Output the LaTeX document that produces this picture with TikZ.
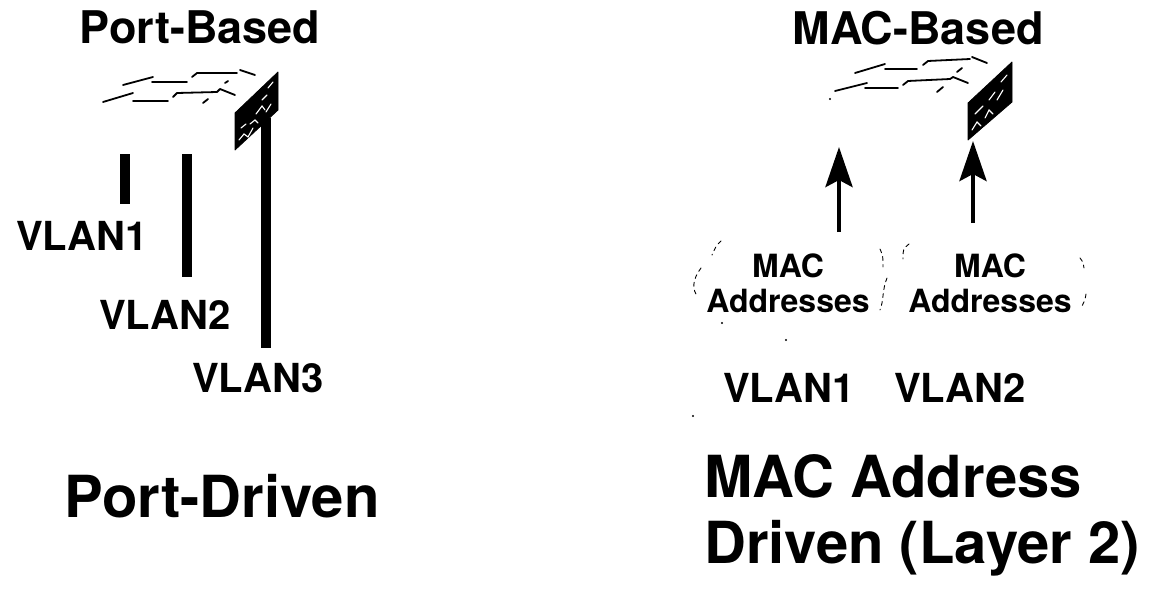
\documentclass[tikz,border=0pt]{standalone}
\usepackage{fontspec}
\setmainfont{TeX Gyre Heros}
\usetikzlibrary{arrows.meta}
\begin{document}
\begin{tikzpicture}[x=1pt,y=-1pt,
  head/.style={font=\fontsize{45}{48}\selectfont\bfseries, inner sep=0pt, anchor=base},
  vlanlabel/.style={font=\fontsize{40}{44}\selectfont\bfseries, inner sep=0pt, anchor=base},
  maclabel/.style={font=\fontsize{32}{35}\selectfont\bfseries, inner sep=0pt, anchor=base, align=center},
  bigtitle/.style={font=\fontsize{58}{66}\selectfont\bfseries, inner sep=0pt, anchor=base west, align=left},
  edge/.style={line width=1.8pt, line cap=round, line join=round},
  panel/.style={fill=black, draw=black, line width=0.8pt, line join=round},
  speck/.style={white, line width=1.1pt, line cap=round},
  vbar/.style={line width=10pt},
  uparrow/.style={line width=4.5pt, -{Stealth[length=40pt, width=27pt, inset=7pt]}},
  cloud/.style={line width=0.9pt, dash pattern=on 4pt off 4pt, line cap=round},
  fleck/.style={fill=black, inner sep=0pt, minimum size=2.4pt, circle}
]
\useasboundingbox (0,0) rectangle (1159,597);

% ---------- Port-based switch ----------
\node[head] (pbhead) at (200,43) {Port-Based};

\draw[edge] (123,85) -- (153,77);
\draw[edge] (152,82) -- (187,82);
\draw[edge] (192,77) -- (197,73) -- (237,73);
\draw[edge] (240,70) -- (255,75);
\draw[edge] (225,83) -- (228,81);
\draw[edge] (103,102) -- (133,93);
\draw[edge] (133,101) -- (168,101);
\draw[edge] (173,97) -- (177,93) -- (217,92) -- (220,89) -- (235,95);
\draw[edge] (203,103) -- (208,99);

\draw[panel] (235,150) -- (235,113) -- (278,72) -- (278,110) -- cycle;
\draw[speck] (239,140) -- (244,134) -- (248,137) -- (253,128) (241,128) -- (246,124);
\draw[speck] (250,124) -- (255,120) -- (258,123) (256,114) -- (262,106) -- (265,110);
\draw[speck] (262,100) -- (267,95) (268,88) -- (273,82) (266,112) -- (271,104);

% port VLAN bars
\coordinate (b1t) at (125,154); \coordinate (b1b) at (125,204);
\coordinate (b2t) at (187,154); \coordinate (b2b) at (187,277);
\coordinate (b3t) at (266,118); \coordinate (b3b) at (266,348);
\draw[vbar] (b1t) -- (b1b);
\draw[vbar] (b2t) -- (b2b);
\draw[vbar] (b3t) -- (b3b);

\node[vlanlabel] (pv1) at (82,250) {VLAN1};
\node[vlanlabel] (pv2) at (165,329) {VLAN2};
\node[vlanlabel] (pv3) at (258,392) {VLAN3};

\node[bigtitle] (pdrv) at (64,517) {Port-Driven};

% ---------- MAC-based switch ----------
\node[head] (mbhead) at (918,44) {MAC-Based};

\draw[edge] (855,73) -- (885,64);
\draw[edge] (885,69) -- (917,69);
\draw[edge] (923,65) -- (928,61) -- (970,59);
\draw[edge] (972,57) -- (987,63);
\draw[edge] (957,72) -- (962,68);
\draw[edge] (835,91) -- (867,83);
\draw[edge] (865,88) -- (898,88);
\draw[edge] (903,85) -- (908,81) -- (950,79) -- (953,77) -- (968,83);
\draw[edge] (937,92) -- (943,87);
\node[fleck] (f1) at (830,99) {};

\draw[panel] (968,140) -- (968,103) -- (1012,62) -- (1012,102) -- cycle;
\draw[speck] (972,130) -- (977,122) -- (981,126) (975,114) -- (983,106);
\draw[speck] (985,118) -- (989,110) -- (993,114) (989,100) -- (995,92);
\draw[speck] (997,100) -- (1003,90) (1001,82) -- (1007,75) (978,134) -- (984,128);

% MAC address groups (node base = baseline of the second line)
\node[maclabel] (mac1) at (788,312) {MAC\\Addresses};
\node[maclabel] (mac2) at (990,312) {MAC\\Addresses};

\coordinate (a1s) at (839,232); \coordinate (a1e) at (839,147);
\coordinate (a2s) at (973,223); \coordinate (a2e) at (973,141);
\draw[uparrow] (a1s) -- (a1e);
\draw[uparrow] (a2s) -- (a2e);

% dashed cloud outlines around the address groups
\draw[cloud] (721,241) .. controls (716,246) .. (712,255);
\draw[cloud] (701,268) .. controls (692,280) and (692,290) .. (698,297);
\draw[cloud] (880,249) .. controls (883,256) .. (883,267);
\draw[cloud] (887,278) .. controls (882,290) and (884,300) .. (880,310);
\node[fleck] (f2) at (722,323) {};
\draw[cloud] (909,244) .. controls (903,249) .. (903,259);
\draw[cloud] (1080,258) .. controls (1083,262) .. (1084,268);
\draw[cloud] (1086,294) .. controls (1085,300) .. (1082,306);
\node[fleck] (f3) at (786,340) {};
\node[fleck] (f4) at (693,416) {};

\node[vlanlabel] (mv1) at (789,402) {VLAN1};
\node[vlanlabel] (mv2) at (960,402) {VLAN2};

% two-line title: node base sits on the baseline of its last line
\node[bigtitle] (mdrv) at (704,563) {MAC Address\\Driven (Layer 2)};
\end{tikzpicture}
\end{document}
